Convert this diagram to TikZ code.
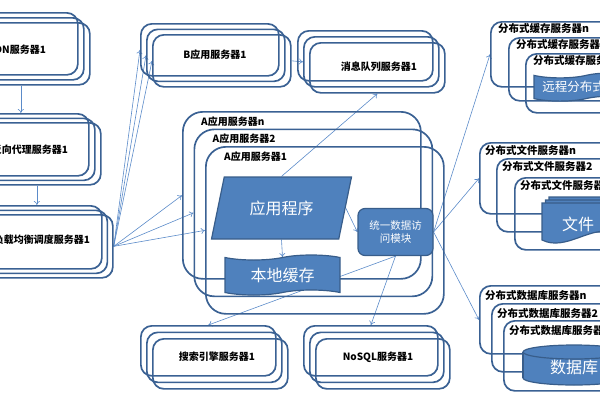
\documentclass[tikz,border=0pt]{standalone}
\usepackage{fontspec}
\setmainfont{Noto Sans CJK SC}
\usetikzlibrary{shapes.geometric, shapes.symbols, arrows.meta, backgrounds}

\definecolor{boxc}{HTML}{3A6193}
\definecolor{fillc}{HTML}{4F81BD}
\definecolor{edgec}{HTML}{385D8A}
\definecolor{arrc}{HTML}{5B8BC9}

\tikzset{
  srv/.style={draw=boxc, line width=1.7pt, rounded corners=11pt, inner sep=0pt, anchor=north west},
  lbl/.style={font=\fontsize{10}{12}\selectfont\bfseries},
  rlbl/.style={font=\fontsize{10.5}{12}\selectfont\bfseries, anchor=west, inner sep=0pt},
  blk/.style={fill=fillc, draw=edgec, line width=1.2pt, text=white},
  big/.style={text=white, font=\fontsize{16}{18}\selectfont},
  arr/.style={draw=arrc, line width=0.6pt, -{To[length=4pt,width=6pt]}},
}

\begin{document}
\begin{tikzpicture}[x=1pt, y=-1pt]
  \useasboundingbox (0,0) rectangle (600,400);
  \clip (0,0) rectangle (600,400);

  % ---- server stacks: three outlines each ----
  \foreach \nm/\x/\y/\w/\h/\dx/\dy in {cdn/-61/12/138/62/6/5, px/-40/113/128/62/6/4.5,
      lb/-27/205/128/63/5.5/4.5, B/140/23/138/52/6/5.5, mq/297/30/135/50/6/6,
      sr/140/325/135/50/6/6.5, nq/303/325/134/50/6/6.5} {
    \foreach \i/\s in {0/a, 1/b, 2/c} {
      \node[srv, minimum width=\w pt, minimum height=\h pt] (\nm\s) at (\x+\i*\dx, \y+\i*\dy) {};
    }
  }
  \node[lbl] (cdnt) at (17,50) {CDN服务器1};
  \node[lbl] (pxt) at (30,150) {反向代理服务器1};
  \node[lbl] (lbt) at (42,240) {负载均衡调度服务器1};
  \node[lbl] (Bt) at (215,55) {B应用服务器1};
  \node[lbl] (mqt) at (379,67) {消息队列服务器1};
  \node[lbl] (srt) at (217,357) {搜索引擎服务器1};
  \node[lbl] (nqt) at (378,357) {NoSQL服务器1};

  % ---- A application servers ----
  \foreach \s/\x/\y in {n/182/111, 2/193.5/128.5, 1/205/146} {
    \node[srv, rounded corners=20pt, minimum width=238pt, minimum height=167pt] (A\s) at (\x,\y) {};
    \node[lbl, anchor=west, inner sep=0pt] (At\s) at ([shift={(19,10.5)}]A\s.north west) {A应用服务器\s};
  }

  % ---- distributed servers (right column) ----
  \foreach \nm/\x/\y/\h/\ox/\oy/\t in {dcn/490/21/65/8/7/分布式缓存服务器n,
      dc2/508/37/63/8/7/分布式缓存服务器2, dc1/525/53/59/8/7/分布式缓存服务器1,
      dfn/479/142/71/6/8.5/分布式文件服务器n, df2/496/158/73/6/8.5/分布式文件服务器2,
      df1/514/177/72/6/8.5/分布式文件服务器1, ddn/479/285/68/6/10.5/分布式数据库服务器n,
      dd2/491/303/68/6/10.5/分布式数据库服务器2, dd1/503/320/70/6/10.5/分布式数据库服务器1} {
    \node[srv, minimum width=160pt, minimum height=\h pt] (\nm) at (\x,\y) {};
    \node[rlbl] (\nm t) at ([shift={(\ox,\oy)}]\nm.north west) {\t};
  }

  % ---- filled blocks ----
  \node[blk, trapezium, trapezium left angle=70, trapezium right angle=110, trapezium stretches=true,
        minimum width=141pt, minimum height=62pt, font=\fontsize{16}{18}\selectfont] (app) at (281.5,208) {应用程序};
  \node[blk, tape, minimum width=115pt, minimum height=40pt, font=\fontsize{16}{18}\selectfont] (cache) at (282.5,275) {本地缓存};
  \node[blk, rounded corners=7pt, minimum width=75pt, minimum height=47pt, align=center,
        font=\fontsize{10.5}{12.5}\selectfont] (dam) at (395.5,232) {统一数据访\\问模块};
  \node[blk, tape, minimum width=104pt, minimum height=25pt, font=\fontsize{12.5}{14}\selectfont] (rc) at (586,87) {远程分布式缓存};

  % files: stacked pages
  \foreach \k in {2,1,0} {
    \filldraw[blk, shift={(3.5*\k,-3*\k)}] (542,203) -- (614,203) -- (614,233)
      .. controls (592,224) and (566,252) .. (542,240) -- cycle;
  }
  \node[big] (files) at (578,224) {文件};

  % database cylinder
  \filldraw[blk] (574,378) ellipse [x radius=51, y radius=7];
  \fill[fillc] (523,352) rectangle (625,378);
  \draw[edgec, line width=1.2pt] (523,352) -- (523,378);
  \filldraw[blk] (574,352) ellipse [x radius=51, y radius=7];
  \node[big] (db) at (574,367) {数据库};

  % ---- connectors ----
  \begin{pgfonlayer}{background}
    \draw[arr] (cdnc.south) -- (cdnc.south |- pxa.north);
    \draw[arr] (pxc.south) -- (pxc.south |- lba.north);
    \foreach \t in {Ba, Bb, Bc, An, A2, A1} {
      \draw[arr] (lbc.east) -- (\t.west);
    }
    \draw[arr] (Bc.east) -- (mqb.west);
    \draw[arr] (app.north) -- (mqc.south);
    \draw[arr] (app.south) -- (cache.north);
    \draw[arr] (app.east) -- (dam.west);
    \draw[arr] (dam.south) -- (sra.north);
    \draw[arr] (dam.south) -- (nqa.north);
    \foreach \t in {dcn, dfn, ddn} {
      \draw[arr] (dam.east) -- (\t.west);
    }
  \end{pgfonlayer}
\end{tikzpicture}
\end{document}
